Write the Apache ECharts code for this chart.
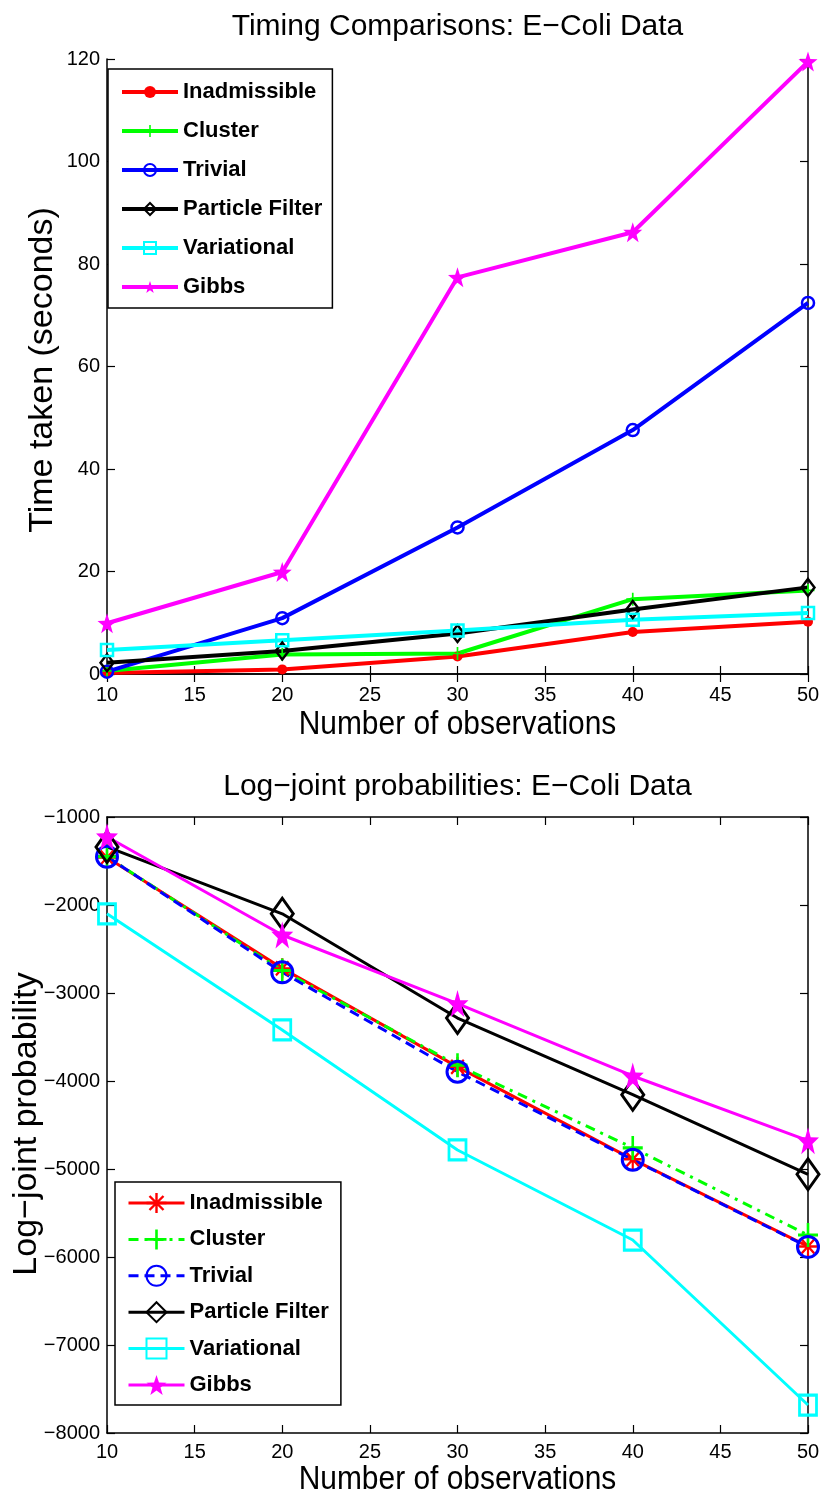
<!DOCTYPE html>
<html><head><meta charset="utf-8">
<script src="https://cdn.jsdelivr.net/npm/echarts@6/dist/echarts.min.js"></script>
<style>html,body{margin:0;padding:0;background:#fff}#c{width:824px;height:1500px}</style>
</head><body><div id="c"></div>
<script>
// ---------- data ----------
const observations = [10, 20, 30, 40, 50];
const seriesNames = ['Inadmissible', 'Cluster', 'Trivial', 'Particle Filter', 'Variational', 'Gibbs'];

// Timing comparisons (seconds)
const timeInadmissible = [0.2, 0.9, 3.4, 8.2, 10.2];
const timeCluster      = [0.6, 3.8, 4.0, 14.6, 16.3];
const timeTrivial      = [0.45, 10.9, 28.6, 47.6, 72.4];
const timeParticle     = [2.2, 4.5, 7.9, 12.6, 16.9];
const timeVariational  = [4.7, 6.6, 8.5, 10.6, 11.9];
const timeGibbs        = [9.9, 19.9, 77.4, 86.2, 119.5];

// Log-joint probabilities
const ljInadmissible = [-1460, -2720, -3840, -4890, -5880];
const ljCluster      = [-1450, -2745, -3820, -4760, -5750];
const ljTrivial      = [-1451, -2765, -3895, -4895, -5885];
const ljParticle     = [-1340, -2100, -3285, -4155, -5060];
const ljVariational  = [-2100, -3420, -4784, -5807, -7682];
const ljGibbs        = [-1224, -2341, -3120, -3943, -4678];

// axis ticks
const obsTicks  = {min: 10, max: 50, step: 5};
const timeTicks = {min: 0, max: 120, step: 20};
const ljTicks   = {min: -8000, max: -1000, step: 1000};

const titleTop = 'Timing Comparisons: E\u2212Coli Data';
const titleBottom = 'Log\u2212joint probabilities: E\u2212Coli Data';
const xTitle = 'Number of observations';
const yTitleTop = 'Time taken (seconds)';
const yTitleBottom = 'Log\u2212joint probability';

// ---------- styling ----------
const FONT = 'Liberation Sans, Arial, Helvetica, sans-serif';
const COLORS = ['#ff0000', '#00ff00', '#0000ff', '#000000', '#00ffff', '#ff00ff'];
const STAR = 'path://M0,-10 L2.35,-3.24 L9.51,-3.09 L3.8,1.24 L5.88,8.09 L0,4 L-5.88,8.09 L-3.8,1.24 L-9.51,-3.09 L-2.35,-3.24 Z';
const PLUS = 'path://M-1.3,-10 L1.3,-10 L1.3,-1.3 L10,-1.3 L10,1.3 L1.3,1.3 L1.3,10 L-1.3,10 L-1.3,1.3 L-10,1.3 L-10,-1.3 L-1.3,-1.3 Z';
const ASTER = 'path://M-1.2,-10 L1.2,-10 L1.2,10 L-1.2,10 Z M-10,-1.2 L10,-1.2 L10,1.2 L-10,1.2 Z M-6.15,-7.85 L7.85,6.15 L6.15,7.85 L-7.85,-6.15 Z M-7.85,6.15 L6.15,-7.85 L7.85,-6.15 L-6.15,7.85 Z';

const pair = arr => observations.map((x, i) => [x, arr[i]]);
const minusFmt = v => (v < 0 ? '\u2212' + Math.abs(v) : String(v));

function mk(name, arr, gi, color, symbol, size, opts) {
  const hollow = opts.hollow;
  return {
    type: 'line', name: name,
    xAxisIndex: gi * 2, yAxisIndex: gi * 2,
    data: pair(arr),
    symbol: symbol, symbolSize: size,
    clip: false, animation: false,
    lineStyle: {color: color, width: opts.lw, type: opts.dash || 'solid'},
    itemStyle: hollow
      ? {color: 'rgba(255,255,255,0)', borderColor: color, borderWidth: opts.bw}
      : {color: color, borderWidth: 0},
    emphasis: {disabled: true}
  };
}

const topSeries = [
  mk(seriesNames[0], timeInadmissible, 0, COLORS[0], 'circle', 10, {lw: 4}),
  mk(seriesNames[1], timeCluster,      0, COLORS[1], PLUS, 13, {lw: 4}),
  mk(seriesNames[2], timeTrivial,      0, COLORS[2], 'circle', 12, {lw: 4, hollow: true, bw: 2.5}),
  mk(seriesNames[3], timeParticle,     0, COLORS[3], 'diamond', [13, 17], {lw: 4, hollow: true, bw: 2.5}),
  mk(seriesNames[4], timeVariational,  0, COLORS[4], 'rect', 12, {lw: 4, hollow: true, bw: 2.5}),
  mk(seriesNames[5], timeGibbs,        0, COLORS[5], STAR, [19, 20], {lw: 4})
];
const SUF = '#2';
const botSeries = [
  mk(seriesNames[0] + SUF, ljInadmissible, 1, COLORS[0], ASTER, [18, 20], {lw: 3}),
  mk(seriesNames[1] + SUF, ljCluster,      1, COLORS[1], PLUS, [20, 24], {lw: 3, dash: [10, 6, 3, 6]}),
  mk(seriesNames[2] + SUF, ljTrivial,      1, COLORS[2], 'circle', 21, {lw: 3, dash: [10, 6], hollow: true, bw: 3}),
  mk(seriesNames[3] + SUF, ljParticle,     1, COLORS[3], 'diamond', [22, 31], {lw: 3, hollow: true, bw: 3}),
  mk(seriesNames[4] + SUF, ljVariational,  1, COLORS[4], 'rect', [17, 20], {lw: 3, hollow: true, bw: 3}),
  mk(seriesNames[5] + SUF, ljGibbs,        1, COLORS[5], STAR, [22, 27], {lw: 3})
];

const axisLineS = {show: true, lineStyle: {color: '#000', width: 1.5}};
const tickS = {show: true, inside: true, length: 8, lineStyle: {color: '#000', width: 1.2}};
const labelS = {color: '#000', fontSize: 20, fontFamily: FONT};

function xAxes(gi, margin) {
  return [
    {type: 'value', gridIndex: gi, position: 'bottom', min: obsTicks.min, max: obsTicks.max, interval: obsTicks.step,
     axisLine: axisLineS, axisTick: tickS, splitLine: {show: false},
     axisLabel: Object.assign({margin: margin}, labelS)},
    {type: 'value', gridIndex: gi, position: 'top', min: obsTicks.min, max: obsTicks.max, interval: obsTicks.step,
     axisLine: axisLineS, axisTick: tickS, splitLine: {show: false}, axisLabel: {show: false}}
  ];
}
function yAxes(gi, t, fmt) {
  return [
    {type: 'value', gridIndex: gi, position: 'left', min: t.min, max: t.max, interval: t.step,
     axisLine: axisLineS, axisTick: tickS, splitLine: {show: false},
     axisLabel: Object.assign({margin: 7, formatter: fmt}, labelS)},
    {type: 'value', gridIndex: gi, position: 'right', min: t.min, max: t.max, interval: t.step,
     axisLine: axisLineS, axisTick: tickS, splitLine: {show: false}, axisLabel: {show: false}}
  ];
}

const legendBase = {
  orient: 'vertical', selectedMode: false, itemWidth: 56,
  backgroundColor: '#fff', borderColor: '#000', borderWidth: 1.5, borderRadius: 0,
  textStyle: {color: '#000', fontSize: 22, fontWeight: 'bold', fontFamily: FONT},
};

function txt(text, x, y, size, rot, sx) {
  return {type: 'text', x: x, y: y, rotation: rot || 0, scaleX: sx || 1, silent: true,
    style: {text: text, fontSize: size, fontFamily: FONT, fill: '#000', align: 'center', verticalAlign: 'middle'}};
}

const option = {
  backgroundColor: '#fff',
  animation: false,
  grid: [
    {left: 107, top: 59, width: 701, height: 615, show: false},
    {left: 107, top: 817, width: 701, height: 616, show: false}
  ],
  xAxis: xAxes(0, 11).concat(xAxes(1, 9)),
  yAxis: yAxes(0, timeTicks, v => String(v)).concat(yAxes(1, ljTicks, minusFmt)),
  legend: [
    Object.assign({}, legendBase, {left: 108, top: 69, padding: [12, 10, 10, 12], itemHeight: 15, itemGap: 17,
      lineStyle: {width: 4}, data: seriesNames.slice()}),
    Object.assign({}, legendBase, {left: 115, top: 1182, padding: [10, 12, 9, 12], itemHeight: 25, itemGap: 14.4,
      lineStyle: {width: 3}, data: seriesNames.map(n => n + SUF), formatter: n => n.replace(SUF, '')})
  ],
  graphic: [
    txt(titleTop, 457.5, 27, 30),
    txt(xTitle, 457.5, 725, 34, 0, 0.88),
    txt(yTitleTop, 43, 370, 34, Math.PI / 2),
    txt(titleBottom, 457.5, 787, 30),
    txt(xTitle, 457.5, 1480, 34, 0, 0.88),
    txt(yTitleBottom, 27, 1124, 34, Math.PI / 2)
  ],
  series: topSeries.concat(botSeries)
};

const chart = echarts.init(document.getElementById('c'), null, {renderer: 'canvas'});
chart.setOption(option);
</script>
</body></html>
